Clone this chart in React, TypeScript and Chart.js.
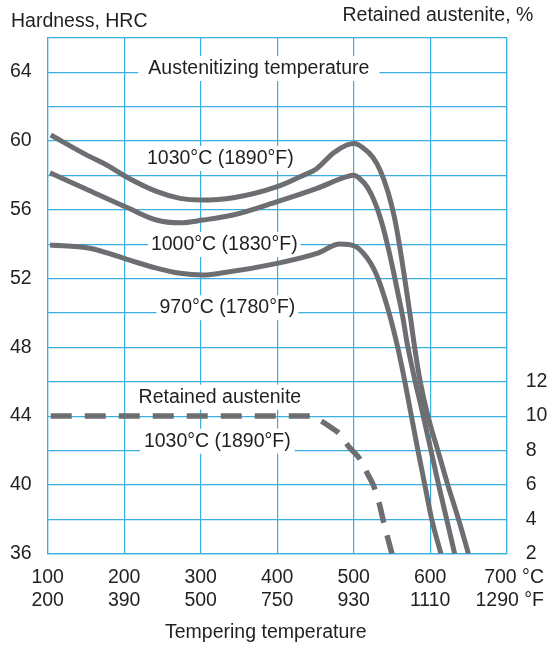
import React, { useEffect, useRef } from 'react';
import { Chart, registerables } from 'chart.js';

Chart.register(...registerables);

// ---- data (tempering temperature °C -> hardness HRC / retained austenite %) ----
const temp1030 = [104, 150, 177, 206, 243, 273, 300, 343, 400, 430, 452, 473, 491, 501, 512, 525, 535, 545, 553, 560, 567, 574, 580, 587, 597, 610, 623, 637, 650];
const hrc1030 = [60.34, 59.2, 58.6, 57.83, 57.05, 56.66, 56.56, 56.7, 57.34, 57.92, 58.4, 59.28, 59.76, 59.85, 59.6, 59.05, 58.25, 57.0, 55.6, 53.9, 51.9, 49.8, 47.9, 46.0, 44.0, 42.0, 40.0, 38.0, 36.0];

const temp1000 = [103, 150, 206, 242, 273, 303, 342, 400, 452, 491, 500, 508, 518, 528, 537, 545, 552, 558, 564, 570, 580, 591, 601, 611, 621.5, 632];
const hrc1000 = [58.15, 57.2, 56.08, 55.4, 55.24, 55.4, 55.69, 56.47, 57.24, 57.92, 58.0, 57.8, 57.3, 56.4, 55.2, 53.8, 52.4, 51.1, 49.8, 48.2, 46.1, 44.0, 42.0, 40.0, 38.0, 36.0];

const temp970 = [103, 155, 206, 242, 273, 303, 325, 400, 452, 482, 501, 512, 522, 530, 537, 544, 551, 558, 566, 575, 584, 593, 602, 614];
const hrc970 = [53.95, 53.76, 53.08, 52.6, 52.3, 52.2, 52.3, 52.88, 53.46, 54.0, 53.89, 53.5, 52.9, 52.2, 51.35, 50.35, 49.2, 47.9, 46.2, 44.1, 42.0, 40.0, 38.0, 36.0];

const tempRA = [104, 200, 300, 400, 445, 458, 470, 482, 494, 509, 518, 526, 533, 538, 544, 550];
const pctRA = [10, 10, 10, 10, 10, 9.7, 9.35, 8.95, 8.2, 7.45, 6.65, 5.95, 5.0, 4.05, 3.0, 2.0];

// ---- ticks / labels ----
const tempTicks = [100, 200, 300, 400, 500, 600, 700];
const tempCLabels = ['100', '200', '300', '400', '500', '600', '700 °C'];
const tempFLabels = ['200', '390', '500', '750', '930', '1110', '1290 °F'];
const hardnessLabels = [36, 40, 44, 48, 52, 56, 60, 64];
const austeniteLabels = [2, 4, 6, 8, 10, 12];

const labelTexts = ['Austenitizing temperature', '1030°C (1890°F)', '1000°C (1830°F)', '970°C (1780°F)', 'Retained austenite', '1030°C (1890°F)'];
const labelTemps = [376, 325.7, 330.8, 334.9, 325.1, 321.7];
const labelHrc = [63.89, 58.66, 53.66, 49.98, 44.78, 42.22];
const labelPads = [10, 4, 3, 3, 4, 4];

const FONT = '"Liberation Sans", Arial, Helvetica, sans-serif';
const FS = 19.5;
const TEXT = '#231f20';
const GRID = '#3aaee0';
const CURVE = '#6d6e71';

const pts = (xs: number[], ys: number[]) => xs.map((x, i) => ({ x, y: ys[i] }));

const textPlugin = {
  id: 'texts',
  beforeDatasetsDraw(chart: any) {
    const { ctx } = chart;
    const xs = chart.scales.x;
    const ys = chart.scales.y;
    ctx.save();
    ctx.font = `${FS}px ${FONT}`;
    ctx.textAlign = 'center';
    ctx.textBaseline = 'alphabetic';
    labelTexts.forEach((t, i) => {
      const w = ctx.measureText(t).width;
      const cx = xs.getPixelForValue(labelTemps[i]);
      const by = ys.getPixelForValue(labelHrc[i]);
      ctx.fillStyle = '#ffffff';
      ctx.fillRect(cx - w / 2 - labelPads[i], by - 18, w + 2 * labelPads[i], 25);
      ctx.fillStyle = TEXT;
      ctx.fillText(t, cx, by);
    });
    ctx.restore();
  },
  afterDraw(chart: any) {
    const { ctx, chartArea } = chart;
    const xs = chart.scales.x;
    ctx.save();
    ctx.font = `${FS}px ${FONT}`;
    ctx.fillStyle = TEXT;
    ctx.textBaseline = 'alphabetic';
    // axis titles
    ctx.textAlign = 'left';
    ctx.fillText('Hardness, HRC', 11, 26.7);
    ctx.textAlign = 'right';
    ctx.fillText('Retained austenite, %', 533.3, 20.7);
    ctx.textAlign = 'left';
    ctx.fillText('Tempering temperature', 165, chartArea.bottom + 84);
    // x tick labels (two rows)
    tempTicks.forEach((v, i) => {
      const px = xs.getPixelForValue(v);
      const last = i === tempTicks.length - 1;
      ctx.textAlign = last ? 'right' : 'center';
      const tx = last ? px + 37.3 : px;
      ctx.fillText(tempCLabels[i], tx, chartArea.bottom + 29.6);
      ctx.fillText(tempFLabels[i], tx, chartArea.bottom + 52.3);
    });
    ctx.restore();
  },
};

export default function App() {
  const ref = useRef<HTMLCanvasElement | null>(null);
  useEffect(() => {
    if (!ref.current) return;
    const solid = (data: any) => ({
      data,
      borderColor: CURVE,
      borderWidth: 5,
      pointRadius: 0,
      cubicInterpolationMode: 'monotone',
      fill: false,
      yAxisID: 'y',
    });
    const chart = new Chart(ref.current, {
      type: 'line',
      data: {
        datasets: [
          solid(pts(temp1030, hrc1030)),
          solid(pts(temp1000, hrc1000)),
          solid(pts(temp970, hrc970)),
          {
            data: pts(tempRA, pctRA),
            borderColor: CURVE,
            borderWidth: 5.5,
            borderDash: [21, 13],
            borderCapStyle: 'butt',
            pointRadius: 0,
            cubicInterpolationMode: 'monotone',
            fill: false,
            yAxisID: 'y1',
          } as any,
        ],
      },
      options: {
        responsive: false,
        animation: false,
        devicePixelRatio: 1,
        layout: { padding: { top: 37.7, left: 0, right: 0, bottom: 0 } },
        plugins: { legend: { display: false }, tooltip: { enabled: false } },
        scales: {
          x: {
            type: 'linear',
            min: 100,
            max: 700,
            ticks: { stepSize: 100, display: false },
            grid: { color: GRID, drawTicks: false, lineWidth: 1.2 },
            border: { color: GRID, width: 1.2 },
            afterFit: (s: any) => { s.height = 91.3; },
          },
          y: {
            type: 'linear',
            position: 'left',
            min: 36,
            max: 66,
            ticks: {
              stepSize: 2,
              autoSkip: false,
              padding: 16,
              color: TEXT,
              font: { size: FS, family: FONT },
              callback: (v: any) => (hardnessLabels.includes(Number(v)) ? String(v) : ''),
            },
            grid: { color: GRID, drawTicks: false, lineWidth: 1.2 },
            border: { color: GRID, width: 1.2 },
            afterFit: (s: any) => { s.width = 47.7; },
          },
          y1: {
            type: 'linear',
            position: 'right',
            min: 2,
            max: 32,
            ticks: {
              stepSize: 2,
              autoSkip: false,
              padding: 19,
              color: TEXT,
              font: { size: FS, family: FONT },
              callback: (v: any) => (austeniteLabels.includes(Number(v)) ? String(v) : ''),
            },
            grid: { display: false, drawTicks: false },
            border: { color: GRID, width: 1.2 },
            afterFit: (s: any) => { s.width = 42.3; },
          },
        },
      } as any,
      plugins: [textPlugin],
    });
    return () => chart.destroy();
  }, []);
  return (
    <div style={{ position: 'absolute', left: 0, top: 0, width: 549, height: 645, background: '#fff' }}>
      <canvas ref={ref} width={549} height={645} style={{ display: 'block', width: 549, height: 645 }} />
    </div>
  );
}
